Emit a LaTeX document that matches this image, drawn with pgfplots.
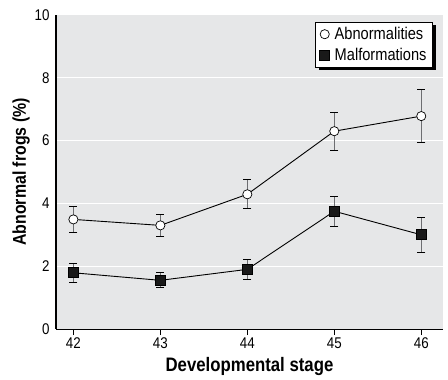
\documentclass[border=0pt]{standalone}
\usepackage{pgfplots}
\pgfplotsset{compat=1.18}
\usepackage{fontspec}
\setmainfont{Liberation Sans}[FakeStretch=0.86]
\usetikzlibrary{shadows}
\definecolor{bg}{HTML}{E6E7E8}
\definecolor{eb}{HTML}{6D6E71}
\pgfplotstableread{
x y e
42 3.49 0.42
43 3.30 0.36
44 4.29 0.46
45 6.30 0.61
46 6.78 0.84
}\abn
\pgfplotstableread{
x y e
42 1.79 0.30
43 1.55 0.24
44 1.90 0.31
45 3.75 0.48
46 3.00 0.57
}\mal
\begin{document}
\begin{tikzpicture}
\begin{axis}[
  scale only axis,
  width=387pt, height=314pt,
  xmin=41.8, xmax=46.25,
  ymin=0, ymax=10,
  xtick={42,43,44,45,46},
  ytick={0,2,4,6,8,10},
  axis x line*=bottom, axis y line*=left,
  axis line style={line width=1pt, -},
  axis background/.style={fill=bg},
  ymajorgrids, grid style={white, line width=1pt},
  ytick style={draw=none},
  xtick style={black, line width=0.8pt},
  tick align=outside, major tick length=6pt,
  /pgf/number format/assume math mode=true,
  ticklabel style={font=\fontsize{15.5}{15.5}\selectfont},
  yticklabel style={xshift=3pt},
  xticklabel style={yshift=1pt},
  xlabel={\textbf{Developmental stage}},
  ylabel={\textbf{Abnormal frogs (\%)}},
  xlabel style={font=\fontsize{19.5}{19.5}\selectfont, yshift=-2pt},
  ylabel style={font=\fontsize{18.5}{18.5}\selectfont, yshift=-2pt},
  legend style={at={(0.974,0.978)}, anchor=north east, draw=black, line width=0.8pt, fill=white,
    drop shadow={shadow xshift=3pt, shadow yshift=-3pt, fill=black, opacity=1},
    font=\fontsize{17}{17}\selectfont, row sep=3pt, inner xsep=4pt, inner ysep=3pt,
    /tikz/every odd column/.append style={column sep=3pt}},
  legend image code/.code={\draw[#1, only marks] plot coordinates {(0cm,0cm)};},
  legend cell align=left,
]
\coordinate (LL) at (rel axis cs:0,0);
\coordinate (UR) at (rel axis cs:1,1);
\addplot[black, line width=0.9pt, mark=*, mark size=4.6pt, mark options={fill=white, line width=0.7pt, solid},
  error bars/.cd, y dir=both, y explicit,
  error bar style={eb, line width=1.2pt},
  error mark options={rotate=90, mark size=4pt, black, line width=0.8pt}]
  table[x=x, y=y, y error=e] {\abn};
\addplot[black, line width=0.9pt, mark=square*, mark size=5pt, mark options={fill=black!90, solid},
  error bars/.cd, y dir=both, y explicit,
  error bar style={eb, line width=1.2pt},
  error mark options={rotate=90, mark size=4pt, black, line width=0.8pt}]
  table[x=x, y=y, y error=e] {\mal};
\legend{Abnormalities, Malformations}
\end{axis}
\pgfresetboundingbox
\path ([xshift=-56pt,yshift=-50pt]LL) rectangle ([xshift=5pt,yshift=15pt]UR);
\end{tikzpicture}
\end{document}
